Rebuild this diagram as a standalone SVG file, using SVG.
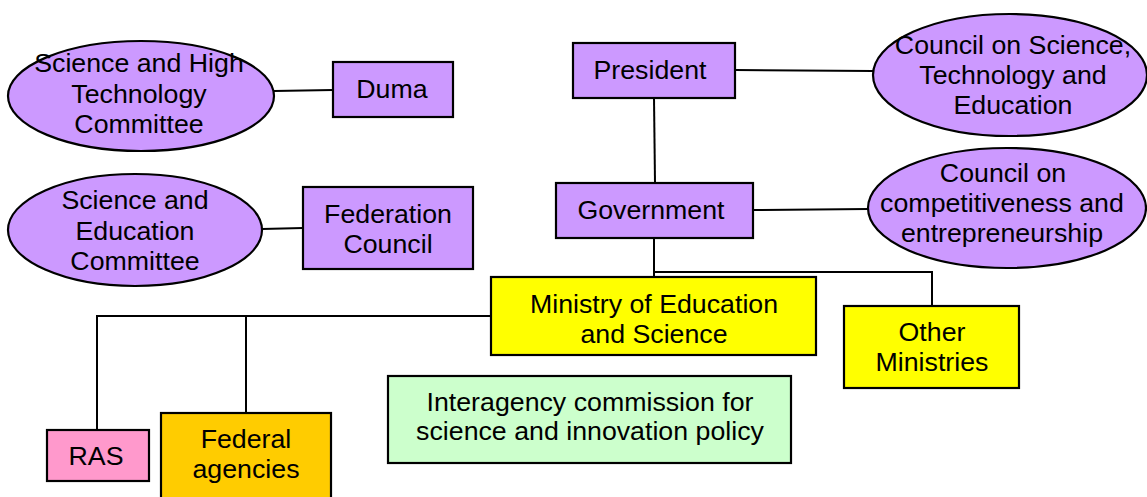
<svg xmlns="http://www.w3.org/2000/svg" width="1147" height="497" viewBox="0 0 1147 497">
<style>
.n{stroke:#000;stroke-width:2.2}
.p{fill:#CC99FF}
.y{fill:#FFFF00}
.k{fill:#FF99CC}
.o{fill:#FFCC00}
.g{fill:#CCFFCC}
.c{fill:none;stroke:#000;stroke-width:2}
text{font-family:"Liberation Sans",Arial,sans-serif;font-size:25px;fill:#000;text-anchor:middle;transform-box:fill-box;transform-origin:center;transform:scaleX(1.07)}
</style>
<rect width="1147" height="497" fill="#fff"/>
<g id="connectors">
<path class="c" d="M274 91 L333 90"/>
<path class="c" d="M262 229 L303 228"/>
<path class="c" d="M735 70 L873 71"/>
<path class="c" d="M654 98 L655 183"/>
<path class="c" d="M753 210 L868 209"/>
<path class="c" d="M654 238 L654 277"/>
<path class="c" d="M654 272 L932 272 L932 306"/>
<path class="c" d="M491 316 L97 316 L97 430"/>
<path class="c" d="M246 316 L246 413"/>
</g>
<g id="sci-high-tech">
<ellipse class="n p" cx="141" cy="96" rx="133" ry="55"/>
<text x="139" y="72">Science and High</text>
<text x="139" y="103">Technology</text>
<text x="139" y="133">Committee</text>
</g>
<g id="duma">
<rect class="n p" x="333" y="62" width="120" height="55"/>
<text x="392" y="98">Duma</text>
</g>
<g id="sci-edu">
<ellipse class="n p" cx="135" cy="230" rx="127" ry="56"/>
<text x="135" y="209">Science and</text>
<text x="135" y="240">Education</text>
<text x="135" y="270">Committee</text>
</g>
<g id="federation-council">
<rect class="n p" x="303" y="187" width="170" height="82"/>
<text x="388" y="223">Federation</text>
<text x="388" y="253">Council</text>
</g>
<g id="president">
<rect class="n p" x="573" y="43" width="162" height="55"/>
<text x="650" y="79">President</text>
</g>
<g id="council-ste">
<ellipse class="n p" cx="1010" cy="75" rx="137" ry="61"/>
<text x="1013" y="54">Council on Science,</text>
<text x="1013" y="84">Technology and</text>
<text x="1013" y="114">Education</text>
</g>
<g id="government">
<rect class="n p" x="556" y="183" width="197" height="55"/>
<text x="651" y="219">Government</text>
</g>
<g id="council-comp">
<ellipse class="n p" cx="1007" cy="208" rx="139" ry="60"/>
<text x="1003" y="182">Council on</text>
<text x="1002" y="212">competitiveness and</text>
<text x="1002" y="242">entrepreneurship</text>
</g>
<g id="ministry">
<rect class="n y" x="491" y="277" width="325" height="78"/>
<text x="654" y="313">Ministry of Education</text>
<text x="654" y="343">and Science</text>
</g>
<g id="other-ministries">
<rect class="n y" x="844" y="306" width="175" height="82"/>
<text x="932" y="341">Other</text>
<text x="932" y="371">Ministries</text>
</g>
<g id="interagency">
<rect class="n g" x="388" y="376" width="403" height="87"/>
<text x="590" y="411">Interagency commission for</text>
<text x="590" y="440">science and innovation policy</text>
</g>
<g id="ras">
<rect class="n k" x="47" y="430" width="102" height="51"/>
<text x="96" y="465">RAS</text>
</g>
<g id="federal-agencies">
<rect class="n o" x="161" y="413" width="170" height="86"/>
<text x="246" y="448">Federal</text>
<text x="246" y="478">agencies</text>
</g>
</svg>
